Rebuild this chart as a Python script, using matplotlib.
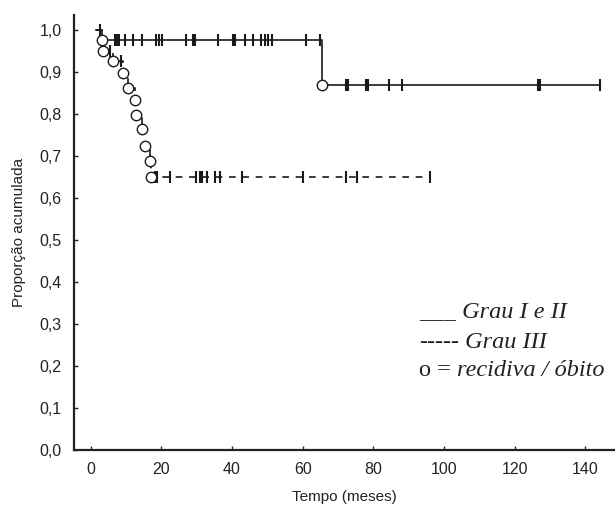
import numpy as np
import matplotlib
matplotlib.use('Agg')
import matplotlib.pyplot as plt
from matplotlib.ticker import FuncFormatter

plt.rcParams['font.family'] = ['Liberation Sans', 'DejaVu Sans']

# Grau I e II (linha cheia)
t_g12 = [1.5, 3.3, 65.4, 144.2]
s_g12 = [1.0, 0.976, 0.869, 0.869]
ev_g12 = [3.3, 65.4]
cens_g12 = [2.5, 6.9, 7.4, 8.1, 9.7, 12.1, 14.4, 18.5, 19.4, 20.2, 27, 29, 29.5,
            36, 40.4, 40.8, 43.8, 46, 48.3, 49.3, 50.3, 51.3, 61, 64.9,
            72.4, 72.9, 78, 78.5, 84.4, 88, 126.7, 127.2, 144.2]

# Grau III (tracejada)
t_g3 = [1.5, 3.5, 6.4, 9.2, 10.5, 12.5, 12.8, 14.4, 15.4, 16.9, 17.1, 96]
s_g3 = [1.0, 0.951, 0.925, 0.897, 0.861, 0.833, 0.798, 0.764, 0.724, 0.689, 0.651, 0.651]
ev_g3 = [3.5, 6.4, 9.2, 10.5, 12.5, 12.8, 14.4, 15.4, 16.9, 17.1]
cens_g3 = [5.5, 8.6, 18.3, 18.9, 22.4, 29.9, 30.9, 31.5, 32.8, 35.2, 36.6,
           42.7, 60.2, 72.4, 75.4, 96]


def nivel(t, tempos, surv):
    i = np.searchsorted(tempos, t, side='right') - 1
    return np.array(surv)[np.clip(i, 0, len(surv) - 1)]


fig = plt.figure(figsize=(6.15, 5.11), dpi=100)
ax = fig.add_axes([0.1208, 0.1194, 0.8792, 0.8507])

cor = '#1a1a1a'
ax.step(t_g12, s_g12, where='post', color=cor, lw=1.2)
ax.step(t_g3, s_g3, where='post', color=cor, lw=1.2, linestyle=(0, (4, 4)))

ax.plot(cens_g12, nivel(cens_g12, t_g12, s_g12), ls='none', marker='|',
        ms=9, mew=1.5, color=cor)
ax.plot(cens_g3, nivel(cens_g3, t_g3, s_g3), ls='none', marker='|',
        ms=9, mew=1.5, color=cor)

ax.plot(ev_g12, nivel(ev_g12, t_g12, s_g12), ls='none', marker='o', ms=7.5,
        mfc='white', mec=cor, mew=1.0, zorder=5)
ax.plot(ev_g3, nivel(ev_g3, t_g3, s_g3), ls='none', marker='o', ms=7.5,
        mfc='white', mec=cor, mew=1.0, zorder=5)

ax.set_xlim(-4.64, 148.4)
ax.set_ylim(0, 1.035)
ax.set_xticks(np.arange(0, 141, 20))
ax.set_yticks(np.arange(0, 1.01, 0.1))
ax.yaxis.set_major_formatter(FuncFormatter(lambda v, p: ('%.1f' % v).replace('.', ',')))
ax.tick_params(direction='in', length=3, width=1, labelsize=11.5, colors='#222222')
ax.tick_params(axis='x', pad=9)
ax.tick_params(axis='y', pad=9)

for lado in ['top', 'right']:
    ax.spines[lado].set_visible(False)
for lado in ['left', 'bottom']:
    ax.spines[lado].set_linewidth(1.6)
    ax.spines[lado].set_color('#222222')

ax.set_xlabel('Tempo (meses)', fontsize=11, labelpad=9, color='#222222')
ax.set_ylabel('Proporção acumulada', fontsize=11, labelpad=10, color='#222222')

# legenda em texto
serif = 'Liberation Serif'
linhas = [('___', ' Grau I e II', 0.368), ('-----', ' Grau III', 0.309),
          ('o = ', 'recidiva / óbito', 0.255)]
for pre, it, y in linhas:
    t1 = fig.text(0.682, y, pre, family=serif, fontsize=17.5, va='bottom', color='#222222')
    ax.annotate(it, xy=(1, 0), xycoords=t1, va='bottom', ha='left',
                family=serif, style='italic', fontsize=17.5, color='#222222')

fig.savefig('out.png', dpi=100)
